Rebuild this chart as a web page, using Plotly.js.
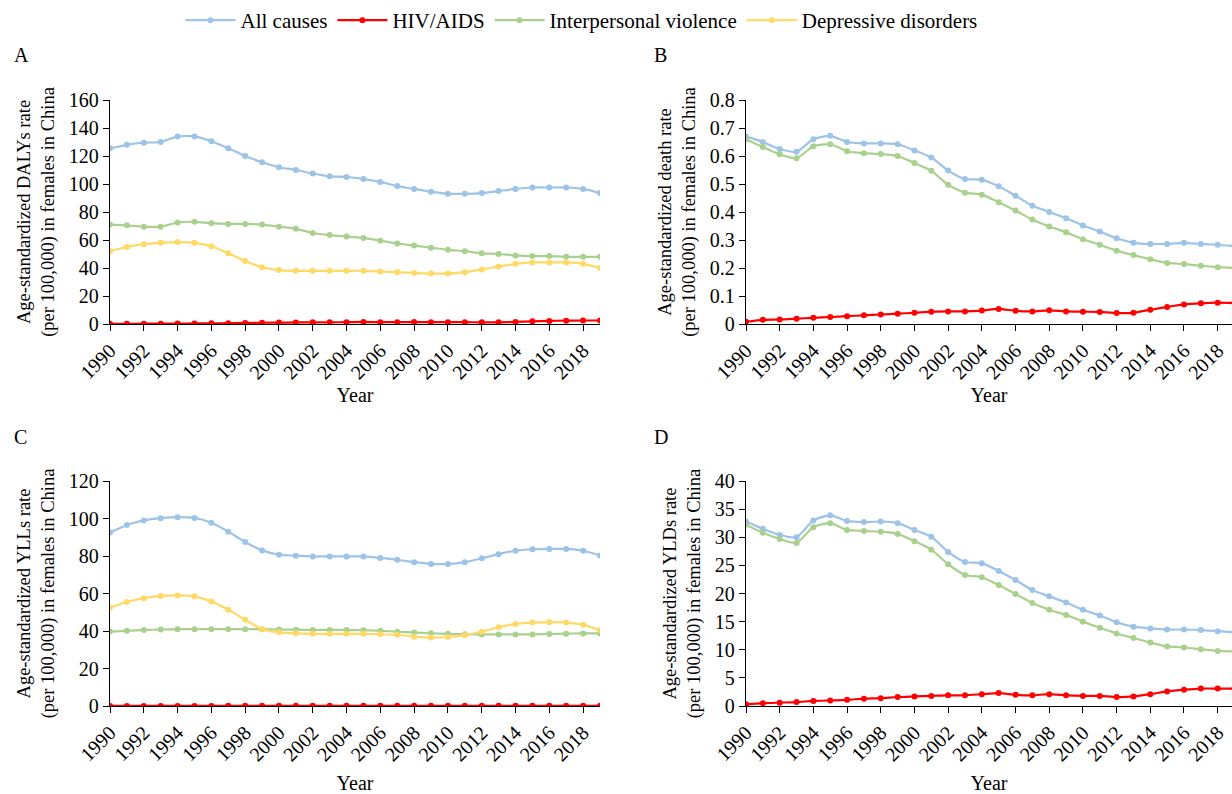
<!DOCTYPE html>
<html>
<head>
<meta charset="utf-8">
<script src="https://cdn.plot.ly/plotly-3.0.1.min.js"></script>
<style>html,body{margin:0;padding:0;background:#fff;}#chart{width:1232px;height:794px;}</style>
</head>
<body>
<div id="chart"></div>
<script>
const years = [1990,1991,1992,1993,1994,1995,1996,1997,1998,1999,2000,2001,2002,2003,2004,2005,2006,2007,2008,2009,2010,2011,2012,2013,2014,2015,2016,2017,2018,2019];
const xTickVals = [1990,1992,1994,1996,1998,2000,2002,2004,2006,2008,2010,2012,2014,2016,2018];
const seriesNames = ["All causes","HIV/AIDS","Interpersonal violence","Depressive disorders"];

// Panel A: DALYs
const dalyAll = [125.5,128,129.5,130,134,134,130.5,125.5,120,115.5,112,110,107.5,105.5,105,103.5,101.5,98.5,96.5,94.5,93,93,93.5,95,96.5,97.5,97.5,97.5,96.5,93.5];
const dalyHIV = [0.1,0.1,0.2,0.2,0.3,0.4,0.5,0.6,0.8,0.9,1.0,1.1,1.2,1.2,1.3,1.5,1.3,1.3,1.4,1.3,1.3,1.3,1.2,1.2,1.5,1.9,2.2,2.4,2.5,2.5];
const dalyViol = [71,70.5,69.5,69.5,72.5,73,72,71.5,71.5,71,69.5,68,65,63.5,62.5,61.5,59.5,57.5,56,54.5,53,52,50.5,50,49,48.5,48.5,48,48,48];
const dalyDep = [52,55,57,58,58.5,58,55.5,50.5,45,40.5,38.5,38,38,38,38,38,37.5,37,36.5,36,36,37,39,41,43,44,44,44,43,40];

// Panel B: deaths
const deathAll = [0.67,0.65,0.625,0.615,0.66,0.672,0.65,0.645,0.645,0.642,0.62,0.595,0.548,0.518,0.515,0.492,0.458,0.422,0.4,0.378,0.352,0.33,0.306,0.29,0.286,0.286,0.29,0.286,0.283,0.278];
const deathHIV = [0.008,0.015,0.016,0.019,0.022,0.025,0.028,0.031,0.034,0.037,0.04,0.044,0.045,0.045,0.048,0.054,0.047,0.045,0.049,0.045,0.044,0.043,0.039,0.04,0.051,0.061,0.07,0.074,0.076,0.075];
const deathViol = [0.66,0.632,0.606,0.592,0.635,0.642,0.617,0.61,0.607,0.6,0.575,0.547,0.497,0.469,0.462,0.435,0.405,0.373,0.348,0.328,0.303,0.283,0.262,0.246,0.231,0.218,0.214,0.208,0.203,0.2];

// Panel C: YLLs
const yllAll = [92.5,96.5,99,100.2,100.7,100.3,97.7,93,87.5,83,80.7,80.2,79.8,79.8,79.8,79.8,79,78,76.7,75.8,75.7,76.7,78.8,81,82.8,83.6,83.8,83.8,82.8,80.3];
const yllHIV = [0.05,0.05,0.05,0.05,0.06,0.06,0.06,0.07,0.07,0.08,0.08,0.09,0.09,0.09,0.1,0.11,0.1,0.1,0.1,0.1,0.1,0.1,0.09,0.09,0.1,0.12,0.13,0.14,0.14,0.14];
const yllViol = [39.7,40.1,40.5,40.8,41,41,41,41,41,40.9,40.8,40.7,40.6,40.6,40.5,40.4,40.1,39.6,39.2,38.8,38.5,38.3,38.2,38.2,38.2,38.2,38.4,38.6,38.7,38.7];
const yllDep = [52.5,55.5,57.5,58.7,59,58.5,55.8,51.3,46,41,39.3,38.8,38.5,38.5,38.5,38.5,38.3,38,37,36.5,36.8,37.8,39.6,42,43.8,44.5,44.7,44.5,43.3,40.5];

// Panel D: YLDs
const yldAll = [32.8,31.5,30.4,30,33,33.9,32.9,32.7,32.8,32.5,31.3,30.1,27.4,25.6,25.4,24,22.4,20.6,19.5,18.4,17.1,16.1,14.9,14.1,13.8,13.6,13.6,13.5,13.3,13.1];
const yldHIV = [0.3,0.5,0.6,0.7,0.9,1.0,1.1,1.3,1.4,1.6,1.7,1.8,1.9,1.9,2.1,2.3,2.0,1.9,2.1,1.9,1.8,1.8,1.6,1.7,2.1,2.6,2.9,3.1,3.1,3.1];
const yldViol = [32.2,30.8,29.7,29,31.8,32.5,31.3,31.1,31,30.6,29.3,27.8,25.2,23.3,22.9,21.5,19.9,18.3,17.1,16.2,15,13.9,12.9,12.1,11.3,10.6,10.4,10.1,9.8,9.7];

const colors = {"All causes":"#9DC3E6","HIV/AIDS":"#FF0000","Interpersonal violence":"#A9D18E","Depressive disorders":"#FFD966"};
const FONT = "Liberation Serif";

function tr(name, y, xa, ya, legend) {
  return {
    type: "scatter", mode: "lines+markers", name: name, x: years, y: y,
    xaxis: xa, yaxis: ya, showlegend: legend, legendgroup: name,
    line: {color: colors[name], width: 2.2, shape: "spline", smoothing: 0.6},
    marker: {color: colors[name], size: 6},
    cliponaxis: true
  };
}

const data = [
  tr("All causes", dalyAll, "x", "y", true),
  tr("HIV/AIDS", dalyHIV, "x", "y", true),
  tr("Interpersonal violence", dalyViol, "x", "y", true),
  tr("Depressive disorders", dalyDep, "x", "y", true),
  tr("All causes", deathAll, "x2", "y2", false),
  tr("Interpersonal violence", deathViol, "x2", "y2", false),
  tr("HIV/AIDS", deathHIV, "x2", "y2", false),
  tr("All causes", yllAll, "x3", "y3", false),
  tr("Interpersonal violence", yllViol, "x3", "y3", false),
  tr("Depressive disorders", yllDep, "x3", "y3", false),
  tr("HIV/AIDS", yllHIV, "x3", "y3", false),
  tr("All causes", yldAll, "x4", "y4", false),
  tr("Interpersonal violence", yldViol, "x4", "y4", false),
  tr("HIV/AIDS", yldHIV, "x4", "y4", false)
];

const W = 1232, H = 794;
const xL = [110/W, 600/W], xR = [746/W, 1];
const yT = [1-324/H, 1-100/H], yB = [1-706/H, 1-481/H];

function xax(domain, anchor, range, standoff) {
  return {
    domain: domain, anchor: anchor, range: range,
    tickmode: "array", tickvals: xTickVals, ticktext: xTickVals.map(String),
    tickangle: -45, ticks: "outside", ticklen: 6, tickcolor: "#000",
    showline: true, linecolor: "#000", linewidth: 1.2, showgrid: false, zeroline: false,
    tickfont: {family: FONT, size: 20, color: "#000"},
    title: {text: "Year", font: {family: FONT, size: 20, color: "#000"}, standoff: standoff},
    automargin: false
  };
}
function yax(domain, anchor, range, dtick, titleText) {
  return {
    domain: domain, anchor: anchor, range: range, dtick: dtick, tick0: 0,
    ticks: "outside", ticklen: 6, tickcolor: "#000",
    showline: true, linecolor: "#000", linewidth: 1.2, showgrid: false, zeroline: false,
    tickfont: {family: FONT, size: 20, color: "#000"},
    title: {text: titleText, font: {family: FONT, size: 18.5, color: "#000"}, standoff: 9},
    automargin: false
  };
}

const layout = {
  width: W, height: H,
  margin: {l: 0, r: 0, t: 0, b: 0},
  paper_bgcolor: "#fff", plot_bgcolor: "#fff",
  font: {family: FONT, color: "#000"},
  showlegend: true,
  legend: {orientation: "h", x: 0.472, xanchor: "center", y: 1.0, yanchor: "top",
           font: {family: FONT, size: 21, color: "#000"}, itemwidth: 50, tracegroupgap: 0},
  xaxis: xax(xL, "y", [1990, 2019], 5),
  yaxis: yax(yT, "x", [0, 160], 20, "Age-standardized DALYs rate<br>(per 100,000) in females in China"),
  xaxis2: xax(xR, "y2", [1990, 2018.85], 5),
  yaxis2: yax(yT, "x2", [0, 0.8], 0.1, "Age-standardized death rate<br>(per 100,000) in females in China"),
  xaxis3: xax(xL, "y3", [1990, 2019], 11),
  yaxis3: yax(yB, "x3", [0, 120], 20, "Age-standardized YLLs rate<br>(per 100,000) in females in China"),
  xaxis4: xax(xR, "y4", [1990, 2018.85], 11),
  yaxis4: yax(yB, "x4", [0, 40], 5, "Age-standardized YLDs rate<br>(per 100,000) in females in China"),
  annotations: [
    {text: "A", x: 12/W, y: 1-55/H, xref: "paper", yref: "paper", xanchor: "left", yanchor: "middle", showarrow: false, font: {family: FONT, size: 20, color: "#000"}},
    {text: "B", x: 652/W, y: 1-55/H, xref: "paper", yref: "paper", xanchor: "left", yanchor: "middle", showarrow: false, font: {family: FONT, size: 20, color: "#000"}},
    {text: "C", x: 12/W, y: 1-437/H, xref: "paper", yref: "paper", xanchor: "left", yanchor: "middle", showarrow: false, font: {family: FONT, size: 20, color: "#000"}},
    {text: "D", x: 652/W, y: 1-437/H, xref: "paper", yref: "paper", xanchor: "left", yanchor: "middle", showarrow: false, font: {family: FONT, size: 20, color: "#000"}}
  ]
};

Plotly.newPlot("chart", data, layout, {displayModeBar: false, staticPlot: true});
</script>
</body>
</html>
